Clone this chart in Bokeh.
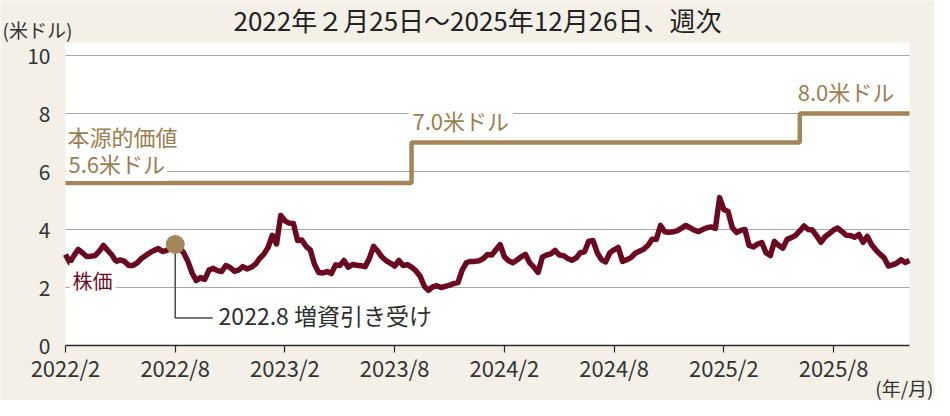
import pandas as pd
from bokeh.plotting import figure
from bokeh.models import Label, FixedTicker, Range1d, BoxAnnotation
from bokeh.embed import file_html
from bokeh.resources import INLINE

# ---------------- data ----------------
start_date = "2022-02-25"
# weekly closing price (USD), 2022-02-25 .. 2025-12-26
price = [
    3.14, 2.86, 3.10, 3.31, 3.20, 3.07, 3.08, 3.10, 3.25, 3.45,
    3.28, 3.12, 2.90, 2.95, 2.90, 2.76, 2.76, 2.85, 3.00, 3.10,
    3.20, 3.28, 3.34, 3.24, 3.28, 3.38, 3.48, 3.36, 3.20, 2.90,
    2.50, 2.24, 2.34, 2.28, 2.60, 2.66, 2.58, 2.55, 2.76, 2.69,
    2.56, 2.60, 2.72, 2.64, 2.70, 2.80, 3.00, 3.15, 3.38, 3.80,
    3.50, 4.48, 4.30, 4.22, 4.21, 3.62, 3.64, 3.42, 3.30, 2.80,
    2.52, 2.50, 2.55, 2.48, 2.78, 2.76, 2.93, 2.70, 2.79, 2.77,
    2.75, 2.72, 3.00, 3.42, 3.25, 3.05, 2.92, 2.84, 2.74, 2.93,
    2.76, 2.79, 2.70, 2.58, 2.40, 2.05, 1.90, 2.02, 2.06, 2.00,
    2.04, 2.08, 2.14, 2.17, 2.60, 2.86, 2.90, 2.90, 2.92, 3.00,
    3.14, 3.12, 3.30, 3.48, 3.06, 2.92, 2.85, 2.95, 3.06, 3.14,
    2.85, 2.70, 2.52, 3.05, 3.12, 3.16, 3.28, 3.12, 3.10, 3.00,
    2.94, 3.02, 3.20, 3.23, 3.60, 3.62, 3.20, 2.96, 2.88, 3.20,
    3.30, 3.38, 2.90, 2.96, 3.03, 3.18, 3.25, 3.32, 3.45, 3.66,
    3.66, 4.14, 3.92, 3.90, 3.92, 3.96, 4.05, 4.14, 4.06, 3.98,
    3.93, 4.00, 4.06, 4.09, 4.04, 5.10, 4.69, 4.62, 4.07, 3.90,
    3.97, 4.00, 3.45, 3.40, 3.50, 3.55, 3.20, 3.10, 3.59, 3.45,
    3.36, 3.66, 3.72, 3.80, 3.95, 4.12, 4.00, 3.98, 3.78, 3.56,
    3.75, 3.86, 3.98, 4.05, 3.93, 3.80, 3.79, 3.73, 3.83, 3.56,
    3.76, 3.48, 3.30, 3.15, 3.02, 2.74, 2.78, 2.84, 2.96, 2.86,
    2.93,
]

# intrinsic value steps
iv_dates = ["2022-02-25", "2023-09-22", "2025-06-27", "2025-12-26"]
iv_values = [5.6, 7.0, 8.0, 8.0]
iv_texts = ["5.6米ドル", "7.0米ドル", "8.0米ドル"]

tick_dates = ["2022-02-25", "2022-08-26", "2023-02-24", "2023-08-25",
              "2024-02-23", "2024-08-23", "2025-02-21", "2025-08-22"]
tick_labels = ["2022/2", "2022/8", "2023/2", "2023/8",
               "2024/2", "2024/8", "2025/2", "2025/8"]
y_ticks = [0, 2, 4, 6, 8, 10]

annot_index = 26          # 2022-08-26 : capital increase
annot_text = "2022.8 増資引き受け"
callout_level = 0.95
callout_days = 62

title_text = "2022年２月25日～2025年12月26日、週次"
y_unit = "(米ドル)"
x_unit = "(年/月)"

# ---------------- styling / layout ----------------
FONT = "'Noto Sans CJK JP', 'Noto Sans', sans-serif"
MAROON = "#6a0a22"
GOLD = "#a38558"
GOLD_TXT = "#9c7d50"
BG = "#f4f0e8"
Y_MAX = 10.45                 # top of white plotting area
W, H = 934, 400
PAD_L, PAD_R, PAD_T, PAD_B = 65, 25, 55, 55   # pixel position of the 0..10 box


def ms(d):
    return float(pd.Timestamp(d).value // 10**6)


dates = pd.date_range(start_date, periods=len(price), freq="7D")
x_ms = [float(t.value // 10**6) for t in dates]
iv_ms = [ms(d) for d in iv_dates]
tick_ms = [ms(d) for d in tick_dates]
DAY = 86400000.0

x0, x1 = x_ms[0], x_ms[-1]
px_x = (x1 - x0) / (W - PAD_L - PAD_R)
y_lo, y_hi = y_ticks[0], y_ticks[-1]
px_y = (y_hi - y_lo) / (H - PAD_T - PAD_B)

p = figure(width=W, height=H, output_backend="svg", toolbar_location=None,
           x_range=Range1d(x0 - PAD_L * px_x, x1 + PAD_R * px_x),
           y_range=Range1d(y_lo - PAD_B * px_y, y_hi + PAD_T * px_y),
           min_border_left=0, min_border_right=0, min_border_top=0,
           min_border_bottom=0, background_fill_color=BG,
           border_fill_color=BG, outline_line_color=None)
p.grid.visible = False

# white plotting area
p.add_layout(BoxAnnotation(left=x0, right=x1, bottom=y_lo, top=Y_MAX,
                           fill_color="white", fill_alpha=1.0,
                           line_color=None, level="underlay"))

# horizontal grid lines
p.segment(x0=[x0] * len(y_ticks), y0=y_ticks, x1=[x1] * len(y_ticks),
          y1=y_ticks, line_color="#a8a8a8", line_width=1.2)

ya = p.yaxis[0]
ya.fixed_location = x0
ya.bounds = (y_lo, y_hi)
ya.ticker = FixedTicker(ticks=y_ticks)
ya.axis_line_color = None
ya.major_tick_line_color = None
ya.minor_tick_line_color = None
ya.major_label_standoff = 9
ya.major_label_text_font = FONT
ya.major_label_text_font_size = "21px"
ya.major_label_text_color = "#333333"

xa = p.xaxis[0]
xa.fixed_location = y_lo
xa.bounds = (x0, x1)
xa.ticker = FixedTicker(ticks=tick_ms)
xa.major_label_overrides = {t: l for t, l in zip(tick_ms, tick_labels)}
xa.axis_line_color = "#2b2b2b"
xa.axis_line_width = 1.5
xa.major_tick_in = 0
xa.major_tick_out = 7
xa.major_tick_line_color = "#2b2b2b"
xa.major_tick_line_width = 1.2
xa.minor_tick_line_color = None
xa.major_label_standoff = -2
xa.major_label_text_font = FONT
xa.major_label_text_font_size = "22px"
xa.major_label_text_color = "#333333"

# intrinsic value step line
p.step(x=iv_ms, y=iv_values, mode="after", line_color=GOLD, line_width=4.5)

# stock price
p.line(x=x_ms, y=price, line_color=MAROON, line_width=5.5, line_join="round")

# annotation leader + dot
ax = x_ms[annot_index]
ay = price[annot_index]
p.line(x=[ax, ax, ax + callout_days * DAY], y=[ay, callout_level, callout_level],
       line_color="#4a4a4a", line_width=1.5)
p.scatter(x=[ax], y=[ay], size=19, fill_color="#a3865a", line_color=None)


def lab(text, x, y, color, size, xo=0, yo=0, align="left", bg=None, pad=0):
    p.add_layout(Label(x=x, y=y, text=text, x_offset=xo, y_offset=yo,
                       text_color=color, text_font_size=f"{size}px",
                       text_font=FONT, text_align=align,
                       text_baseline="middle", background_fill_color=bg,
                       padding=pad))


# intrinsic value labels (white box first, heading drawn after it)
lab(iv_texts[0], iv_ms[0], iv_values[0], GOLD_TXT, 22, xo=1, yo=20, bg="white", pad=2)
lab("本源的価値", iv_ms[0], iv_values[0], GOLD_TXT, 22, xo=2, yo=47)
lab(iv_texts[1], iv_ms[1], iv_values[1], GOLD_TXT, 22, xo=-3, yo=23, bg="white", pad=4)
lab(iv_texts[2], iv_ms[2], iv_values[2], GOLD_TXT, 22, xo=-2, yo=23)

# stock label
lab("株価", x_ms[0], 2.0, MAROON, 20, xo=4, yo=7, bg="white", pad=3)

# callout text
lab(annot_text, ax + callout_days * DAY, callout_level, "#2e2e2e", 23, xo=6, yo=3)

# title and units
lab(title_text, x0, Y_MAX, "#222222", 26, xo=412, yo=23, align="center")
lab(y_unit, x0, Y_MAX, "#333333", 19, xo=-63, yo=13)
lab(x_unit, x1, y_lo, "#333333", 19, xo=24, yo=-42, align="right")

open("out.html", "w").write(file_html(p, INLINE))
